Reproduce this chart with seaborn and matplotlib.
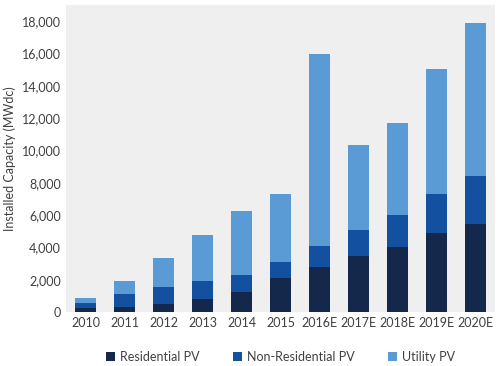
"""Stacked bar chart of installed PV capacity by segment, 2010-2020E."""
import matplotlib
matplotlib.use('Agg')
import matplotlib.pyplot as plt
import seaborn as sns
import pandas as pd

years = ['2010', '2011', '2012', '2013', '2014', '2015',
         '2016E', '2017E', '2018E', '2019E', '2020E']
residential = [250, 300, 500, 800, 1240, 2100, 2790, 3470, 4030, 4890, 5450]
non_residential = [310, 815, 1050, 1120, 1050, 1000, 1300, 1610, 1970, 2410, 2970]
utility = [310, 805, 1830, 2850, 3960, 4200, 11890, 5260, 5700, 7750, 9480]

segments = ['Residential PV', 'Non-Residential PV', 'Utility PV']
colors = ['#14284b', '#1450a0', '#5b9bd5']

df = pd.DataFrame({'year': years, 'Residential PV': residential,
                   'Non-Residential PV': non_residential, 'Utility PV': utility})

sns.set_style('white')
plt.rcParams['font.family'] = ['Lato', 'DejaVu Sans']

fig = plt.figure(figsize=(5, 3.66), dpi=100)
ax = fig.add_axes([0.132, 0.147, 0.858, 0.839])
ax.set_facecolor('#efefef')

bottom = [0] * len(years)
for seg, col in zip(segments, colors):
    sns.barplot(data=df, x='year', y=seg, color=col, width=0.56,
                bottom=bottom, label=seg, ax=ax, saturation=1, linewidth=0)
    bottom = [b + v for b, v in zip(bottom, df[seg])]

ax.set_ylim(0, 19000)
ax.set_yticks(range(0, 18001, 2000))
ax.set_yticklabels([f'{v:,}' for v in range(0, 18001, 2000)])
ax.set_xlabel('')
ax.set_ylabel('Installed Capacity (MWdc)', fontsize=9, color='#404040')
ax.tick_params(labelsize=9, colors='#404040', length=0)
for s in ax.spines.values():
    s.set_visible(False)

ax.legend(loc='upper center', bbox_to_anchor=(0.5, -0.09), ncol=3,
          frameon=False, fontsize=9, handlelength=0.7, handleheight=0.7,
          columnspacing=2.7, handletextpad=0.4, labelcolor='#404040')

plt.savefig('out.png')
